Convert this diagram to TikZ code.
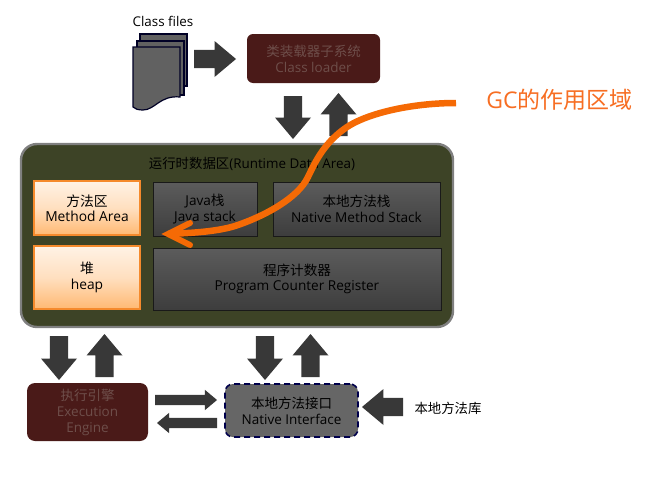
\documentclass[tikz,border=0pt]{standalone}
\usepackage{fontspec}
\setmainfont{Open Sans}
\newfontfamily\cjk{Noto Sans CJK SC}
\usetikzlibrary{shapes.arrows,calc,arrows.meta}
\definecolor{blk}{HTML}{383838}
\definecolor{maroon}{HTML}{4A1A18}
\definecolor{maroont}{HTML}{6E4E4A}
\definecolor{olive}{HTML}{3D4326}
\definecolor{orangeb}{HTML}{F58A2C}
\definecolor{curve}{HTML}{F56A05}
\newcommand{\Zh}[1]{{\cjk #1}}
\tikzset{
 blockarrow/.style={single arrow,fill=blk,draw=none,outer sep=0pt,single arrow head indent=0pt,single arrow tip angle=80,anchor=tip},
 bigarrow/.style={blockarrow,inner sep=9pt,single arrow head extend=8.8pt},
 thinarrow/.style={blockarrow,inner sep=5pt,single arrow head extend=5pt},
 maroonbox/.style={rounded corners=6pt,fill=maroon,text=maroont,align=center,font=\fontsize{13.5}{16}\selectfont,inner sep=0pt},
 orangebox/.style={draw=orangeb,line width=1.4pt,top color=orange!10!white,bottom color=orange!55!white,middle color=orange!25!white,text=black,align=center,font=\fontsize{13.8}{15.5}\selectfont,inner sep=0pt},
 grayregion/.style={draw=black!90,line width=1pt,top color=black!64,bottom color=black!76,text=black,align=center,font=\fontsize{13.6}{15.5}\selectfont,inner sep=0pt},
 lbl/.style={text=black,font=\fontsize{13.4}{15}\selectfont,inner sep=0pt},
 sheet/.style={draw=black!85!blue,line width=1.2pt,fill=black!62}
}
\begin{document}
\begin{tikzpicture}[x=1pt,y=-1pt]
\useasboundingbox (0,0) rectangle (646,482);
\fill[white] (0,0) rectangle (646,482);
\node[lbl] (cf) at (163,21) {Class files};
% document stack
\draw[sheet] (140,34) rectangle (187,86);
\draw[sheet] (137,41) rectangle (184,95);
\draw[sheet] (133,47) -- (180,47) -- (180,97) .. controls (160,95) and (155,110) .. (143,110) .. controls (138,110) and (135,109) .. (133,107) -- cycle;
% class loader
\node[maroonbox,minimum width=133pt,minimum height=49pt] (loader) at (313.5,58.5) {\Zh{类装载器子系统}\\Class loader};
% big region
\node[draw=black!50,line width=2.4pt,fill=olive,rounded corners=16pt,minimum width=432pt,minimum height=183pt,inner sep=0pt] (rt) at (237,235.5) {};
\node[text=black,font=\fontsize{13.4}{15}\selectfont,inner sep=0pt] (rttitle) at (252,164) {\Zh{运行时数据区}(Runtime Data Area)};
\node[orangebox,minimum width=106pt,minimum height=54pt] (method) at (87,208) {\Zh{方法区}\\Method Area};
\node[orangebox,minimum width=106pt,minimum height=63pt] (heap) at (87,277.5) {\Zh{堆}\\heap};
\node[grayregion,minimum width=104pt,minimum height=54pt] (jstack) at (205,209) {Java\Zh{栈}\\Java stack};
\node[grayregion,minimum width=167pt,minimum height=54pt] (nstack) at (356.5,209) {\Zh{本地方法栈}\\Native Method Stack};
\node[grayregion,minimum width=288pt,minimum height=62pt] (pc) at (297,279) {\Zh{程序计数器}\\Program Counter Register};
% execution engine
\node[maroonbox,minimum width=121pt,minimum height=58pt,rounded corners=8pt] (exec) at (87.5,412) {\Zh{执行引擎}\\Execution\\Engine};
% native interface
\node[draw=black!70!blue,dash pattern=on 6pt off 4pt,line width=1.6pt,fill=black!60,rounded corners=8pt,text=black,align=center,font=\fontsize{13.5}{16}\selectfont,minimum width=133pt,minimum height=53pt,inner sep=0pt] (native) at (291.5,410.5) {\Zh{本地方法接口}\\Native Interface};
\node[lbl] (lib) at (448,408) {\Zh{本地方法库}};
% block arrows
\node[bigarrow,minimum height=42pt] (a1) at (236,59) {};
\node[bigarrow,rotate=-90,minimum height=43pt] (a2) at (293,139) {};
\node[bigarrow,rotate=90,minimum height=43pt] (a3) at (338.5,93) {};
\node[bigarrow,rotate=-90,minimum height=44pt] (a4) at (59,380) {};
\node[bigarrow,rotate=90,minimum height=43pt] (a5) at (104.5,334) {};
\node[bigarrow,rotate=-90,minimum height=44pt] (a6) at (265,380) {};
\node[bigarrow,rotate=90,minimum height=43pt] (a7) at (310.5,334) {};
\node[thinarrow,minimum height=62pt] (a8) at (217,400) {};
\node[thinarrow,rotate=180,minimum height=60pt] (a9) at (157,423) {};
\node[bigarrow,rotate=180,minimum height=41pt] (a10) at (362,407) {};
% GC
\node[text=orangeb!80!red,font=\fontsize{23}{26}\selectfont,inner sep=0pt] (gc) at (559.5,100) {GC\Zh{的作用区域}};
\coordinate (gcs) at (456,103);
\coordinate (gct) at (168,234);
\draw[curve,line width=6.5pt,line join=round] (gcs) .. controls (415,103) and (370,112) .. (347,127) .. controls (325,142) and (316,160) .. (308,177) .. controls (298,198) and (265,216) .. (235,226) .. controls (215,232) and (190,233) .. (gct);
\draw[curve,line width=6pt,line cap=round,line join=miter] (190,223) -- (gct) -- (190,245);
\end{tikzpicture}
\end{document}
